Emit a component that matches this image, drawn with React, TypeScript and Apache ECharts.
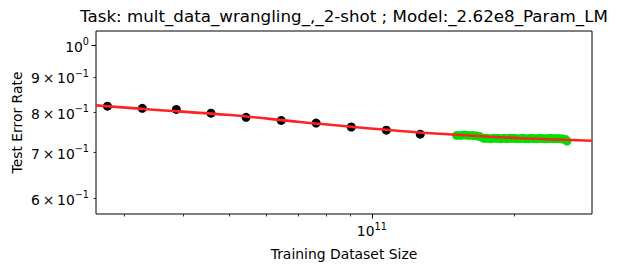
import React, { useEffect, useRef } from "react";
import * as echarts from "echarts";

const FONT = "DejaVu Sans";
const titleText = "Task: mult_data_wrangling_,_2-shot ; Model:_2.62e8_Param_LM";
const xName = "Training Dataset Size";
const yName = "Test Error Rate";

// axis ranges (raw values)
const xRange = [2.62e10, 2.913e11];
const yRange = [0.569, 1.049];

// ticks
const xMajorTicks = [1e11];
const xMajorBase = ["10"];
const xMajorExp = ["11"];
const xMinorTicks = [3e10, 4e10, 5e10, 6e10, 7e10, 8e10, 9e10, 2e11];

const yMajorTicks = [1];
const yMajorBase = ["10"];
const yMajorExp = ["0"];
const yMinorTicks = [0.6, 0.7, 0.8, 0.9];
const yMinorBase = ["6\u2009×\u200910", "7\u2009×\u200910", "8\u2009×\u200910", "9\u2009×\u200910"];
const yMinorExp = ["−1", "−1", "−1", "−1"];

// black points
const blackX = [2.77e10, 3.28e10, 3.87e10, 4.58e10, 5.43e10, 6.44e10, 7.63e10, 9.05e10, 1.073e11, 1.265e11];
const blackY = [0.816, 0.81, 0.807, 0.797, 0.786, 0.778, 0.771, 0.761, 0.753, 0.743];

// green points
const greenX = [
  1.51e11, 1.54e11, 1.57e11, 1.6e11, 1.63e11, 1.66e11, 1.69e11, 1.72e11, 1.75e11, 1.78e11,
  1.81e11, 1.84e11, 1.87e11, 1.9e11, 1.93e11, 1.96e11, 1.99e11, 2.02e11, 2.05e11, 2.08e11,
  2.11e11, 2.14e11, 2.17e11, 2.2e11, 2.23e11, 2.26e11, 2.29e11, 2.32e11, 2.35e11, 2.38e11,
  2.41e11, 2.44e11, 2.47e11, 2.5e11, 2.53e11, 2.56e11, 2.58e11,
];
const greenY = [
  0.74, 0.74, 0.741, 0.74, 0.74, 0.739, 0.737, 0.733, 0.733, 0.732,
  0.733, 0.733, 0.732, 0.733, 0.732, 0.733, 0.733, 0.732, 0.732, 0.733,
  0.732, 0.732, 0.733, 0.732, 0.732, 0.733, 0.732, 0.732, 0.732, 0.733,
  0.732, 0.732, 0.732, 0.732, 0.731, 0.73, 0.726,
];

// fitted curve
const fitX = [2.62e10, 3.41e10, 5.03e10, 7.06e10, 1.148e11, 1.537e11, 2.056e11, 2.913e11];
const fitY = [0.818, 0.807, 0.792, 0.774, 0.751, 0.741, 0.733, 0.727];

const L = Math.log10;

function makeFormatter(ticks: number[], base: string[], exp: string[]) {
  return (v: number) => {
    const i = ticks.findIndex((t) => Math.abs(L(t) - v) < 1e-6);
    if (i < 0) return "";
    return `{b|${base[i]}}{s|${exp[i]}}`;
  };
}

const rich = {
  b: { fontFamily: FONT, fontSize: 13.9, color: "#000", lineHeight: 17, verticalAlign: "bottom" as const },
  s: { fontFamily: FONT, fontSize: 9.7, color: "#000", lineHeight: 11, verticalAlign: "top" as const },
};

export default function App() {
  const ref = useRef<HTMLDivElement>(null);
  useEffect(() => {
    if (!ref.current) return;
    const chart = echarts.init(ref.current, undefined, { renderer: "svg" });
    const xMin = L(xRange[0]);
    const xMax = L(xRange[1]);
    const yMin = L(yRange[0]);
    const yMax = L(yRange[1]);
    const baseX = {
      type: "value" as const,
      min: xMin,
      max: xMax,
      position: "bottom" as const,
      splitLine: { show: false },
      axisLine: { show: false, onZero: false },
    };
    const baseY = {
      type: "value" as const,
      min: yMin,
      max: yMax,
      position: "left" as const,
      splitLine: { show: false },
      axisLine: { show: false, onZero: false },
    };
    chart.setOption({
      animation: false,
      grid: { left: 96, right: 26, top: 31, bottom: 59, show: true, borderColor: "#000", borderWidth: 1, backgroundColor: "transparent" },
      graphic: [
        {
          type: "text",
          x: 344,
          y: 16,
          style: { text: titleText, fontFamily: FONT, fontSize: 16.7, fill: "#000", textAlign: "center", textVerticalAlign: "middle" },
        },
      ],
      xAxis: [
        {
          ...baseX,
          name: xName,
          nameLocation: "middle",
          nameGap: 33,
          nameTextStyle: { fontFamily: FONT, fontSize: 13.9, color: "#000" },
          axisTick: { show: true, customValues: xMajorTicks.map(L), length: 4.5, lineStyle: { color: "#000", width: 1 } },
          axisLabel: { show: true, customValues: xMajorTicks.map(L), margin: 7, formatter: makeFormatter(xMajorTicks, xMajorBase, xMajorExp), rich },
        },
        {
          ...baseX,
          axisTick: { show: true, customValues: xMinorTicks.map(L), length: 2.5, lineStyle: { color: "#000", width: 0.8 } },
          axisLabel: { show: false },
        },
      ],
      yAxis: [
        {
          ...baseY,
          name: yName,
          nameLocation: "middle",
          nameGap: 72,
          nameTextStyle: { fontFamily: FONT, fontSize: 13.9, color: "#000" },
          axisTick: { show: true, customValues: yMajorTicks.map(L), length: 4.5, lineStyle: { color: "#000", width: 1 } },
          axisLabel: { show: true, customValues: yMajorTicks.map(L), margin: 7, formatter: makeFormatter(yMajorTicks, yMajorBase, yMajorExp), rich },
        },
        {
          ...baseY,
          axisTick: { show: true, customValues: yMinorTicks.map(L), length: 2.5, lineStyle: { color: "#000", width: 0.8 } },
          axisLabel: { show: true, customValues: yMinorTicks.map(L), margin: 7, formatter: makeFormatter(yMinorTicks, yMinorBase, yMinorExp), rich },
        },
      ],
      series: [
        {
          type: "scatter",
          xAxisIndex: 0,
          yAxisIndex: 0,
          symbolSize: 9,
          itemStyle: { color: "#000", opacity: 1 },
          data: blackX.map((x, i) => [L(x), L(blackY[i])]),
          z: 2,
        },
        {
          type: "scatter",
          xAxisIndex: 0,
          yAxisIndex: 0,
          symbolSize: 9,
          itemStyle: { color: "#00e000", opacity: 1 },
          data: greenX.map((x, i) => [L(x), L(greenY[i])]),
          z: 2,
        },
        {
          type: "line",
          xAxisIndex: 0,
          yAxisIndex: 0,
          smooth: 0.4,
          showSymbol: false,
          lineStyle: { color: "#ff2222", width: 2.6 },
          data: fitX.map((x, i) => [L(x), L(fitY[i])]),
          z: 3,
        },
      ],
    });
    return () => chart.dispose();
  }, []);
  return <div ref={ref} style={{ width: 618, height: 273, position: "absolute", left: 0, top: 0 }} />;
}
